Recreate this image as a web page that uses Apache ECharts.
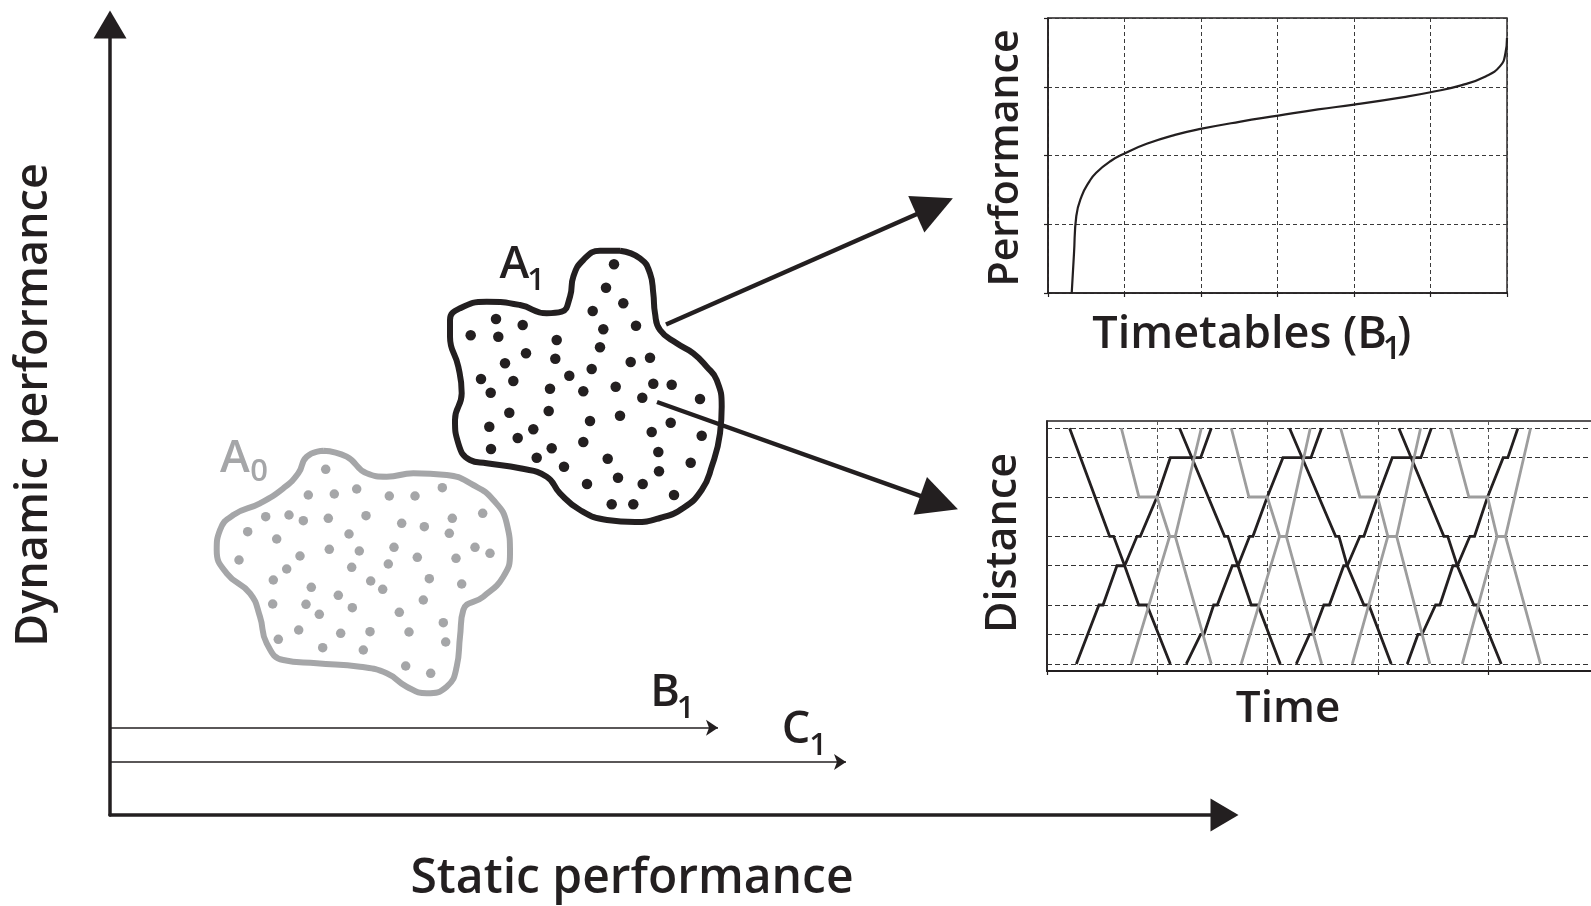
<!DOCTYPE html>
<html><head><meta charset="utf-8">
<script src="https://cdn.jsdelivr.net/npm/echarts@6/dist/echarts.min.js"></script>
<style>html,body{margin:0;padding:0;background:#fff}#c{width:1591px;height:906px}</style>
</head><body><div id="c"></div>
<script>
// ---------- main diagram (units = px from origin) ----------
const a0Outline = [[213.3,364.3],[236.7,358.3],[256.7,341.7],[276.7,338.3],[303.3,341.7],[336.7,340],[363.3,330],[383.3,315],[396.7,291.7],[400,261.7],[393.3,238.3],[373.3,218.3],[353.3,205],[350,178.3],[346.7,148.3],[336.7,128.3],[316.7,121.7],[296.7,128.3],[276.7,141.7],[250,148.3],[206.7,151.7],[173.3,155],[156.7,171.7],[150,198.3],[140,221.7],[116.7,241.7],[106.7,265],[110,285],[123.3,300],[150,311.7],[173.3,326.7],[188.3,341.7],[196.7,358.3],[213.3,364.3]];
const a0Dots = [[215.7,345.7],[198.3,320],[224.3,321],[246.7,326],[279.3,319],[305,319],[332.3,327.3],[155.7,298.3],[179,300],[193.3,294.3],[218.3,296.7],[256,299.3],[291.7,291.7],[314.3,288.3],[342.3,296.7],[372.7,301.7],[137.7,283.3],[166.7,276],[239,281],[339.3,281.7],[219.3,265.7],[249.3,264],[284,267.7],[190,259],[129,255],[307.3,257.7],[346,256.7],[365,267.7],[380,261.7],[176.7,246],[241.7,247.7],[278.3,251],[163.3,235],[260.7,234],[319.3,236.3],[201.3,227.7],[272.7,225.7],[351.7,231],[228.3,219.7],[162.7,211],[196,210.7],[242.3,207.3],[313.3,215],[209.3,200.7],[289.3,202.7],[333.3,192.3],[188.7,185],[230.7,181.7],[260,183.3],[299,183],[168.3,175.7],[335.7,173],[212.7,167.3],[253.3,165],[295.7,149],[320.7,141.7]];
const a1Outline = [[510,564.3],[530,556.7],[540,541.7],[543.3,521.7],[545,501.7],[550,485],[566.7,471.7],[583.3,461.7],[596.7,448.3],[606.7,435],[611.7,408.3],[610,381.7],[601.7,348.3],[591.7,325],[573.3,307],[550,297],[525,293],[497,295],[470,305],[450,321.7],[436.7,338.3],[410,346.7],[376.7,351.7],[360,355],[348.3,371.7],[345,395],[351.7,421.7],[348.3,448.3],[340,478.3],[340,495],[350,506.7],[376.7,513.3],[410,510],[436.7,501.7],[451.7,503.3],[460,518.3],[463.3,538.3],[473.3,555],[490,564.3],[510,564.3]];
const a1Dots = [[504,550.7],[496,527.3],[513.3,511.7],[482.7,504],[386,496],[412.7,490],[360.7,479.7],[388.3,478.3],[493.3,485.7],[526,489.3],[446.7,475],[490,467.7],[416,461.7],[445.3,456.3],[520.7,453],[540,457.3],[395,451.7],[481.7,446],[371,436],[459.3,439.3],[403.3,434],[543.3,431.3],[561.7,430.3],[440,426.3],[473.3,423.7],[505.7,428.3],[380.7,422.3],[532.3,417.3],[590,416],[399.3,402.3],[438.7,404],[510,399.3],[480,394],[560.7,392.3],[379.3,388.3],[423.3,385.7],[541.7,383],[591.7,379.3],[407.7,377],[473.3,373],[441.7,366.7],[381,366],[548.3,363],[426.7,357.3],[497.7,356.3],[580.7,352.3],[454,348.3],[549,343.7],[508,337.3],[477,331],[532.7,331],[564,320],[501.7,310.7],[523.3,310.7]];
const arrowB1 = [[0,87.3],[608,87.3]];
const arrowC1 = [[0,53],[736,53]];
const arrowToTimetables = [[556,490.5],[824.6,608.8]];
const arrowToTrainGraph = [[547,413],[829.1,312.4]];

// ---------- top-right: performance of timetables ----------
const perfCurve = [[0.31,0],[0.34,0.58],[0.37,1.12],[0.44,1.41],[0.54,1.62],[0.63,1.75],[0.82,1.92],[1.0,2.03],[1.29,2.17],[1.66,2.30],[2.01,2.39],[2.5,2.49],[3.01,2.58],[3.53,2.67],[4.0,2.74],[4.65,2.85],[5.0,2.92],[5.40,3.02],[5.72,3.15],[5.91,3.30],[5.98,3.49],[6.0,3.71]];

// ---------- bottom-right: train graph (time, distance) ----------
const stations = [0,3,6,10,13,17,21,24];
const blackDown1 = [[0.205,24],[0.568,13],[0.604,13],[0.704,10],[0.831,6],[0.906,6],[1.118,0]];
const blackDown2 = [[1.202,24],[1.610,13],[1.640,13],[1.731,10],[1.852,6],[1.912,6],[2.115,0]];
const blackDown3 = [[2.199,24],[2.617,13],[2.647,13],[2.722,10],[2.873,6],[2.918,6],[3.121,0]];
const blackDown4 = [[3.190,24],[3.598,13],[3.633,13],[3.720,10],[3.870,6],[3.900,6],[4.118,0]];
const blackUp1 = [[0.266,0],[0.471,6],[0.508,6],[0.634,10],[0.704,10],[0.816,13],[0.846,13],[0.997,17],[1.118,21],[1.393,21],[1.489,24]];
const blackUp2 = [[1.263,0],[1.393,3],[1.423,3],[1.511,6],[1.544,6],[1.680,10],[1.731,10],[1.837,13],[1.867,13],[1.997,17],[2.139,21],[2.393,21],[2.489,24]];
const blackUp3 = [[2.260,0],[2.380,3],[2.410,3],[2.510,6],[2.560,6],[2.690,10],[2.722,10],[2.837,13],[2.873,13],[2.997,17],[3.130,21],[3.390,21],[3.484,24]];
const blackUp4 = [[3.266,0],[3.363,3],[3.400,3],[3.523,6],[3.562,6],[3.680,10],[3.720,10],[3.834,13],[3.876,13],[3.994,17],[4.136,21],[4.178,21],[4.269,24]];
const grayDown1 = [[0.674,24],[0.834,17],[0.997,17],[1.112,13],[1.163,13],[1.489,0]];
const grayDown2 = [[1.671,24],[1.831,17],[1.997,17],[2.109,13],[2.170,13],[2.490,0]];
const grayDown3 = [[2.662,24],[2.837,17],[2.997,17],[3.090,13],[3.170,13],[3.471,0]];
const grayDown4 = [[3.658,24],[3.825,17],[3.994,17],[4.080,13],[4.157,13],[4.474,0]];
const grayUp1 = [[0.764,0],[1.112,13],[1.163,13],[1.399,24]];
const grayUp2 = [[1.761,0],[2.109,13],[2.170,13],[2.387,24]];
const grayUp3 = [[2.768,0],[3.090,13],[3.170,13],[3.387,24]];
const grayUp4 = [[3.765,0],[4.080,13],[4.157,13],[4.384,24]];

const INK = '#231f20', GRAY = '#a5a6a8', TRAIN_GRAY = '#9d9d9d';
const FONT = '"Open Sans", "Noto Sans", sans-serif';

function txt(text, x, y, size, opts) {
  opts = opts || {};
  return { type: 'text', x: x, y: y, rotation: opts.rot || 0, silent: true, z: 100,
    style: { text: text, fontSize: size, fontFamily: FONT, fontWeight: 600, fill: opts.color || INK,
      align: opts.align || 'center', verticalAlign: 'middle' } };
}

const blackTrains = [blackDown1, blackDown2, blackDown3, blackDown4, blackUp1, blackUp2, blackUp3, blackUp4];
const grayTrains = [grayDown1, grayDown2, grayDown3, grayDown4, grayUp1, grayUp2, grayUp3, grayUp4];

function trainSeries(data, color) {
  return { type: 'line', xAxisIndex: 2, yAxisIndex: 2, data: data, showSymbol: false, symbol: 'none',
    silent: true, z: 5, lineStyle: { color: color, width: 2.8, cap: 'butt', join: 'miter', opacity: 1 } };
}
function arrowSeries(coords, width, symbol, size) {
  return { type: 'lines', coordinateSystem: 'cartesian2d', xAxisIndex: 0, yAxisIndex: 0, silent: true, z: 6,
    symbol: ['none', symbol], symbolSize: size,
    lineStyle: { color: INK, width: width, opacity: 1, curveness: 0 },
    itemStyle: { color: INK, opacity: 1 },
    data: [{ coords: coords }] };
}

const chart = echarts.init(document.getElementById('c'), null, { renderer: 'canvas' });
const dashGrid = { show: true, lineStyle: { type: [4, 3], color: '#3a3a3a', width: 1 } };

chart.setOption({
  animation: false,
  backgroundColor: '#ffffff',
  grid: [
    { left: 110, top: 24.5, width: 1114.5, height: 790.5, outerBoundsMode: 'none', containLabel: false },
    { left: 1048, top: 18, width: 459, height: 275, show: true, borderColor: INK, borderWidth: 1.4, backgroundColor: 'transparent', outerBoundsMode: 'none', containLabel: false },
    { left: 1047, top: 421, width: 560, height: 250, show: true, borderColor: INK, borderWidth: 1.6, backgroundColor: 'transparent', outerBoundsMode: 'none', containLabel: false }
  ],
  xAxis: [
    { gridIndex: 0, type: 'value', min: 0, max: 1114.5, axisLabel: { show: false }, axisTick: { show: false }, splitLine: { show: false },
      axisLine: { show: true, onZero: false, symbol: ['none', 'triangle'], symbolSize: [33, 28], lineStyle: { color: INK, width: 3.5 } } },
    { gridIndex: 1, type: 'value', min: 0, max: 6, interval: 1, axisLabel: { show: false },
      axisTick: { show: true, length: 4, lineStyle: { color: INK, width: 1.2 } }, splitLine: dashGrid,
      axisLine: { show: true, onZero: false, lineStyle: { color: INK, width: 1.6 } } },
    { gridIndex: 2, type: 'value', min: 0, max: 560 / 110.3, interval: 1, axisLabel: { show: false },
      axisTick: { show: true, length: 4, lineStyle: { color: INK, width: 1.2 } },
      splitLine: { show: true, lineStyle: { type: [4, 3], color: '#555', width: 1 } },
      axisLine: { show: true, onZero: false, lineStyle: { color: INK, width: 2 } } }
  ],
  yAxis: [
    { gridIndex: 0, type: 'value', min: 0, max: 790.5, axisLabel: { show: false }, axisTick: { show: false }, splitLine: { show: false },
      axisLine: { show: true, onZero: false, symbol: ['none', 'triangle'], symbolSize: [33, 28], lineStyle: { color: INK, width: 3.5 } } },
    { gridIndex: 1, type: 'value', min: 0, max: 4, interval: 1, axisLabel: { show: false },
      axisTick: { show: true, length: 4, lineStyle: { color: INK, width: 1.2 } }, splitLine: dashGrid,
      axisLine: { show: true, onZero: false, lineStyle: { color: INK, width: 1.6 } } },
    { gridIndex: 2, type: 'value', min: -0.72, max: 24.74, axisLabel: { show: false }, axisTick: { show: false }, splitLine: { show: false },
      axisLine: { show: true, onZero: false, lineStyle: { color: INK, width: 1.6 } } }
  ],
  series: [
    { type: 'line', xAxisIndex: 0, yAxisIndex: 0, data: a0Outline, smooth: 0.5, showSymbol: false, symbol: 'none', silent: true, z: 2,
      lineStyle: { color: GRAY, width: 6, opacity: 1 } },
    { type: 'scatter', xAxisIndex: 0, yAxisIndex: 0, data: a0Dots, symbolSize: 9.5, silent: true, z: 3, itemStyle: { color: GRAY, opacity: 1 } },
    { type: 'line', xAxisIndex: 0, yAxisIndex: 0, data: a1Outline, smooth: 0.5, showSymbol: false, symbol: 'none', silent: true, z: 2,
      lineStyle: { color: INK, width: 6, opacity: 1 } },
    { type: 'scatter', xAxisIndex: 0, yAxisIndex: 0, data: a1Dots, symbolSize: 10.5, silent: true, z: 3, itemStyle: { color: INK, opacity: 1 } },
    arrowSeries(arrowB1, 1.5, 'arrow', 12),
    arrowSeries(arrowC1, 1.5, 'arrow', 12),
    arrowSeries(arrowToTimetables, 4.5, 'triangle', 40),
    arrowSeries(arrowToTrainGraph, 4.5, 'triangle', 40),
    { type: 'line', xAxisIndex: 1, yAxisIndex: 1, data: perfCurve, smooth: 0.5, showSymbol: false, symbol: 'none', silent: true, z: 5,
      lineStyle: { color: INK, width: 2.2, opacity: 1 } },
    { type: 'line', xAxisIndex: 2, yAxisIndex: 2, data: [], silent: true, z: 1,
      markLine: { silent: true, symbol: 'none', label: { show: false }, animation: false,
        lineStyle: { type: [5, 3], color: '#333', width: 1 },
        data: stations.map(function (s) { return { yAxis: s }; }) } }
  ].concat(blackTrains.map(function (d) { return trainSeries(d, INK); }))
   .concat(grayTrains.map(function (d) { return trainSeries(d, TRAIN_GRAY); })),
  graphic: [
    txt('Dynamic performance', 34, 405, 45, { rot: Math.PI / 2 }),
    txt('Static performance', 632, 879, 48),
    txt('Performance', 1006, 158, 41, { rot: Math.PI / 2 }),
    txt('Timetables (B', 1387, 335, 45, { align: 'right' }),
    txt('1', 1392, 350, 32),
    txt(')', 1397, 335, 45, { align: 'left' }),
    txt('Distance', 1004, 543, 43, { rot: Math.PI / 2 }),
    txt('Time', 1288, 709, 44),
    txt('A', 235, 459, 45, { color: GRAY }),
    txt('0', 259, 472, 31, { color: GRAY }),
    txt('A', 514.5, 265, 45),
    txt('1', 536, 281, 31),
    txt('B', 665, 693, 45),
    txt('1', 685.5, 709, 31),
    txt('C', 796, 730, 45),
    txt('1', 818, 746, 31)
  ]
});
</script>
</body></html>
